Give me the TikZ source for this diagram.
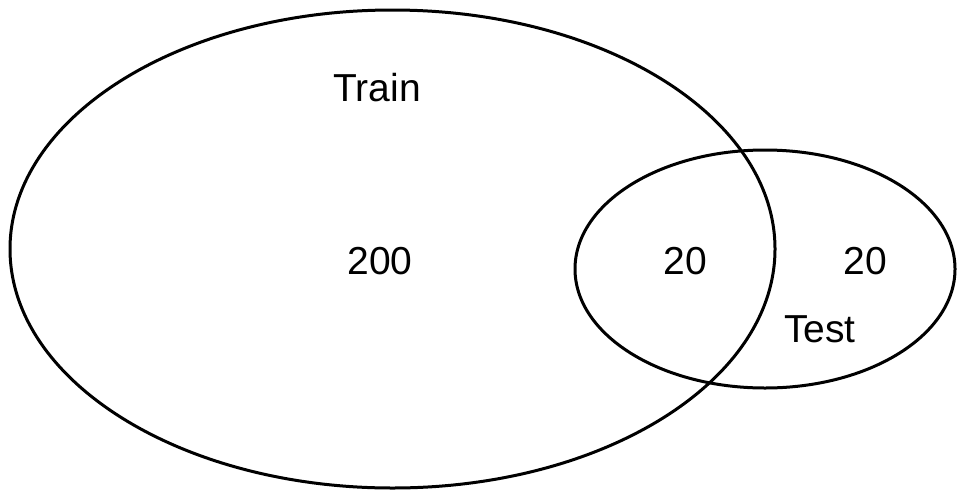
\documentclass[tikz,border=0pt]{standalone}
\usepackage{fontspec}
\setmainfont{Liberation Sans}
\begin{document}
\begin{tikzpicture}[x=1pt,y=-1pt,
  setline/.style={draw=black,line width=3pt},
  lbl/.style={inner sep=0pt,font=\fontsize{39}{46}\selectfont}]
\useasboundingbox (0,0) rectangle (957,493);
\draw[setline] (392.5,249) ellipse [x radius=382.5, y radius=239];
\draw[setline] (765,269) ellipse [x radius=190, y radius=119];
\node[lbl] (train) at (377,88) {Train};
\node[lbl] (n200) at (380,261) {200};
\node[lbl] (n20a) at (685,261) {20};
\node[lbl] (n20b) at (865,261) {20};
\node[lbl] (test) at (820,329) {Test};
\end{tikzpicture}
\end{document}
